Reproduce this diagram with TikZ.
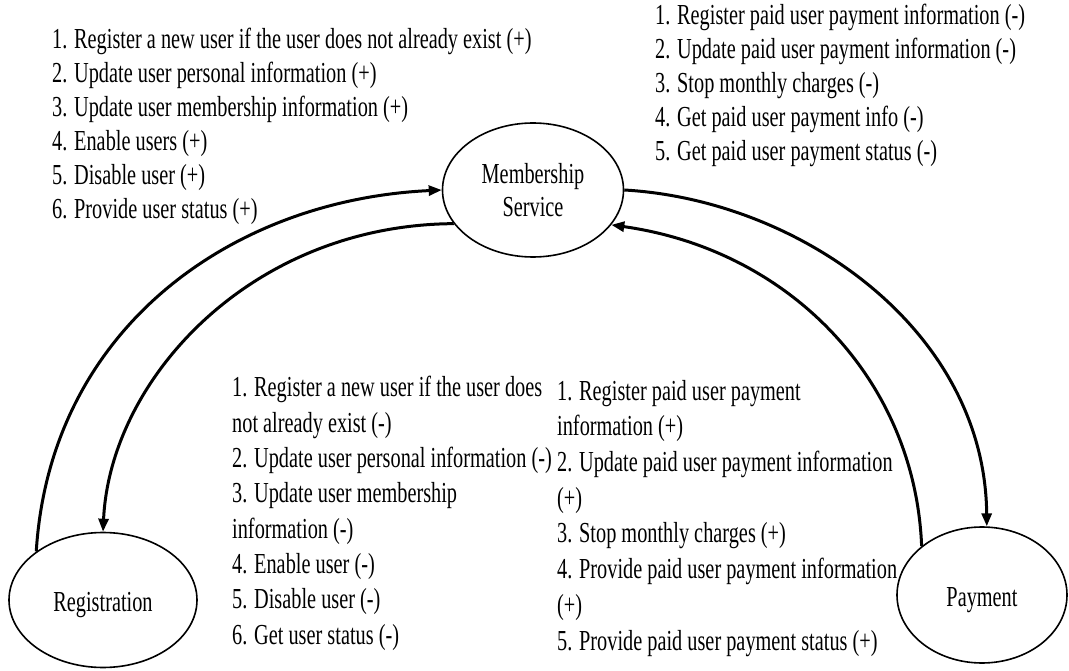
\documentclass[tikz,border=0pt]{standalone}
\usepackage{fontspec}
\setmainfont{Liberation Serif}[FakeStretch=0.70]
\usetikzlibrary{shapes.geometric,arrows.meta}
\newcommand\lstfont[1]{\fontsize{29}{#1}\selectfont}
\begin{document}
\begin{tikzpicture}[x=1pt,y=-1pt,
  svc/.style={ellipse,draw,line width=1.6pt,inner sep=0pt,align=center,font=\lstfont{33}},
  lowlabel/.style={text depth=0pt,text height=23pt},
  lst/.style={anchor=base west,align=left,inner sep=0pt},
  flow/.style={line width=3pt,-{Triangle[length=13pt,width=10pt]}}]
\useasboundingbox (0,0) rectangle (1069,671);
\fill[white] (0,0) rectangle (1069,671);

\node[svc,minimum width=181pt,minimum height=134pt] (mem) at (533,190) {Membership\\Service};
\node[svc,lowlabel,minimum width=188pt,minimum height=135pt] (reg) at (103,600) {Registration};
\node[svc,lowlabel,minimum width=170pt,minimum height=136pt] (pay) at (982,595) {Payment};

\draw[flow] (reg.144) .. controls (50,330) and (230,200) .. (mem.west);
\draw[flow] (mem.203) .. controls (250,225) and (110,380) .. (reg.north);
\draw[flow] (mem.east) .. controls (800,200) and (985,330) .. (pay.86);
\draw[flow] (pay.141) .. controls (915,380) and (790,250) .. (mem.336);

% anchors: baseline of the last line of each block
\node[lst,font=\lstfont{34.2}] (tl) at (52,219) {1. Register a new user if the user does not already exist (+)\\
2. Update user personal information (+)\\
3. Update user membership information (+)\\
4. Enable users (+)\\
5. Disable user (+)\\
6. Provide user status (+)};

\node[lst,font=\lstfont{34}] (tr) at (655,161) {1. Register paid user payment information (-)\\
2. Update paid user payment information (-)\\
3. Stop monthly charges (-)\\
4. Get paid user payment info (-)\\
5. Get paid user payment status (-)};

\node[lst,font=\lstfont{35.3}] (mid) at (232,644) {1. Register a new user if the user does\\
not already exist (-)\\
2. Update user personal information (-)\\
3. Update user membership\\
information (-)\\
4. Enable user (-)\\
5. Disable user (-)\\
6. Get user status (-)};

\node[lst,font=\lstfont{35.7}] (br) at (557,650) {1. Register paid user payment\\
information (+)\\
2. Update paid user payment information\\
(+)\\
3. Stop monthly charges (+)\\
4. Provide paid user payment information\\
(+)\\
5. Provide paid user payment status (+)};
\end{tikzpicture}
\end{document}
